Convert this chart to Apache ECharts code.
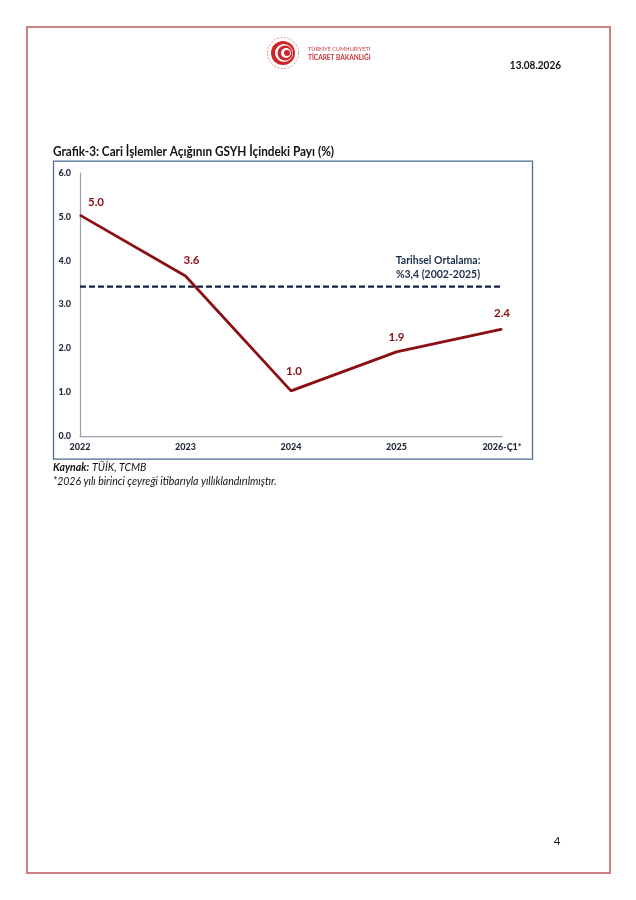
<!DOCTYPE html>
<html><head><meta charset="utf-8">
<style>html,body{margin:0;padding:0;background:#fff}#c{width:636px;height:900px}</style>
<script src="https://cdn.jsdelivr.net/npm/echarts@6/dist/echarts.min.js"></script>
</head><body><div id="c"></div>
<script>
const categories = ['2022','2023','2024','2025','2026-Ç1*'];
const deficitShare = [5.04,3.65,1.03,1.92,2.44];
const deficitLabels = ['5.0','3.6','1.0','1.9','2.4'];
const historicalAverage = [3.41,3.41,3.41,3.41,3.41];
const yTicks = [0,1,2,3,4,5,6];

const FONT = 'Lato';
const labelOffsets = [[16,-1],[6,-4],[3,-8],[0,-3],[0,-4]];
const chart = echarts.init(document.getElementById('c'), null, {renderer:'canvas'});

function txt(x,y,text,style,sx){
  return {type:'text',x,y,scaleX:sx||1,z:5,silent:true,style:Object.assign({text,fontFamily:FONT,fill:'#111',verticalAlign:'middle'},style)};
}
const logoRed = '#d2232a';
const logo = [
  {type:'circle',shape:{cx:283,cy:53,r:15.5},style:{fill:'none',stroke:'#e58a8d',lineWidth:1,lineDash:[2,1.5]}},
  {type:'circle',shape:{cx:283,cy:53,r:12},style:{fill:logoRed}},
  {type:'circle',shape:{cx:284,cy:53,r:9},style:{fill:'#fff'}},
  {type:'circle',shape:{cx:285,cy:53,r:7.5},style:{fill:logoRed}},
  {type:'circle',shape:{cx:286,cy:53,r:5},style:{fill:'#fff'}},
  {type:'circle',shape:{cx:287,cy:53,r:3},style:{fill:logoRed}}
];

chart.setOption({
  animation:false,
  backgroundColor:'#fff',
  textStyle:{fontFamily:FONT},
  grid:{left:80,right:134,top:173,bottom:464,containLabel:false},
  xAxis:{type:'category',data:categories,boundaryGap:false,
    axisLine:{lineStyle:{color:'#9aa1ad',width:1.25}},axisTick:{show:false},
    axisLabel:{color:'#1c2738',fontWeight:900,fontSize:9,fontFamily:FONT,margin:7,interval:0,hideOverlap:false,showMinLabel:true,showMaxLabel:true}},
  yAxis:{type:'value',min:yTicks[0],max:yTicks[yTicks.length-1],interval:1,
    axisLine:{show:true,lineStyle:{color:'#9aa1ad',width:1.25}},axisTick:{show:false},splitLine:{show:false},
    axisLabel:{color:'#1c2738',fontWeight:900,fontSize:9,fontFamily:FONT,margin:9,formatter:v=>v.toFixed(1)}},
  series:[
    {name:'Tarihsel Ortalama',type:'line',data:historicalAverage,symbol:'none',silent:true,z:2,
      lineStyle:{color:'#0e2444',width:2.25,type:[6,3]}},
    {name:'Cari İşlemler Açığı',type:'line',symbol:'circle',symbolSize:1,showSymbol:true,showAllSymbol:true,z:3,
      itemStyle:{color:'#8b0f14'},
      lineStyle:{color:'#8b0f14',width:2.75},
      data:deficitShare.map((v,i)=>({value:v,label:{show:true,position:'top',offset:labelOffsets[i],
        formatter:deficitLabels[i],color:'#8b0f14',fontWeight:'bold',fontSize:11.5,fontFamily:FONT}}))}
  ],
  graphic:[
    {type:'rect',z:-1,shape:{x:27,y:27,width:583,height:846},style:{fill:'none',stroke:'#cb7f80',lineWidth:2}},
    {type:'rect',z:-1,shape:{x:53.5,y:161,width:479,height:298},style:{fill:'#fff',stroke:'#4a6a94',lineWidth:1.25}},
    ...logo,
    txt(308,49,'TÜRKİYE CUMHURİYETİ',{fontSize:6.5,fill:'#c8454a'},0.86),
    txt(308,58,'TİCARET BAKANLIĞI',{fontSize:6.5,fontWeight:'bold',fill:'#c8323a'}),
    txt(561,65,'13.08.2026',{fontSize:11.5,fontWeight:'bold',align:'right'},0.87),
    txt(53,152,'Grafik-3: Cari İşlemler Açığının GSYH İçindeki Payı (%)',{fontSize:13,fontWeight:'bold'},0.905),
    txt(438,261,'Tarihsel Ortalama:',{fontSize:10.5,fontWeight:'bold',align:'center',fill:'#1c2d4a'}),
    txt(438,275,'%3,4 (2002-2025)',{fontSize:10.5,fontWeight:'bold',align:'center',fill:'#1c2d4a'}),
    txt(53,468,'Kaynak:',{fontSize:10.5,fontWeight:'bold',fontStyle:'italic'}),
    txt(92,468,'TÜİK, TCMB',{fontSize:10.5,fontStyle:'italic'}),
    txt(53,482,'*2026 yılı birinci çeyreği itibarıyla yıllıklandırılmıştır.',{fontSize:10.5,fontStyle:'italic'}),
    txt(557,841,'4',{fontSize:11.5,align:'center'})
  ]
});
</script></body></html>
